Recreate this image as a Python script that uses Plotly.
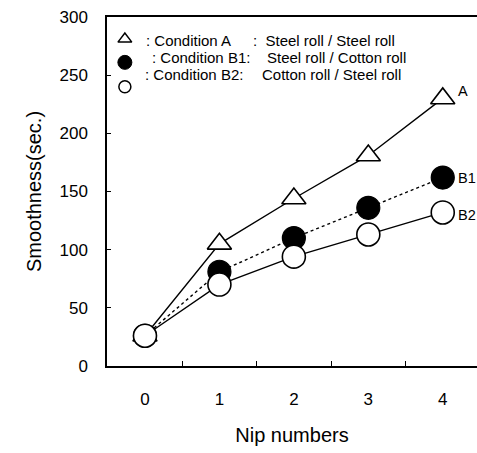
import plotly.graph_objects as go

nips = [0, 1, 2, 3, 4]
cond_a = [26, 105, 144, 181, 230]
cond_b1 = [26, 81, 110, 136, 162]
cond_b2 = [26, 70, 94, 113, 132]
x_tick_vals = [0, 1, 2, 3, 4]
x_tick_text = ["0", "1", "2", "3", "4"]
y_tick_vals = [0, 50, 100, 150, 200, 250, 300]
legend_conditions = [": Condition A", ": Condition B1:", ": Condition B2:"]
legend_rolls = [
    ":  Steel roll / Steel roll",
    "Steel roll / Cotton roll",
    "Cotton roll / Steel roll",
]
end_labels = ["A", "B1", "B2"]

FONT = "Liberation Sans, Arial, sans-serif"
fig = go.Figure()

fig.add_trace(go.Scatter(
    x=nips, y=cond_a, mode="lines+markers",
    line=dict(color="black", width=1.4),
    marker=dict(symbol="triangle-up", size=21, color="white",
                line=dict(color="black", width=1.6)),
    showlegend=False))
fig.add_trace(go.Scatter(
    x=nips, y=cond_b1, mode="lines+markers",
    line=dict(color="black", width=1.4, dash="dot"),
    marker=dict(symbol="circle", size=23, color="black",
                line=dict(color="black", width=1.2)),
    showlegend=False))
fig.add_trace(go.Scatter(
    x=nips, y=cond_b2, mode="lines+markers",
    line=dict(color="black", width=1.4),
    marker=dict(symbol="circle", size=23, color="white",
                line=dict(color="black", width=1.6)),
    showlegend=False))

# legend key symbols
fig.add_trace(go.Scatter(
    x=[-0.27], y=[281], mode="markers",
    marker=dict(symbol="triangle-up", size=12, color="white",
                line=dict(color="black", width=1.5)),
    showlegend=False, hoverinfo="skip"))
fig.add_trace(go.Scatter(
    x=[-0.27], y=[261], mode="markers",
    marker=dict(symbol="circle", size=14, color="black",
                line=dict(color="black", width=1)),
    showlegend=False, hoverinfo="skip"))
fig.add_trace(go.Scatter(
    x=[-0.27], y=[240], mode="markers",
    marker=dict(symbol="circle", size=12, color="white",
                line=dict(color="black", width=1.5)),
    showlegend=False, hoverinfo="skip"))

cond_pos = [(-0.01, 279.5), (0.067, 264.8), (-0.027, 250.2)]
roll_pos = [(1.43, 279.5), (1.611, 264.8), (1.544, 250.2)]
for (lx, ly), txt in zip(cond_pos, legend_conditions):
    fig.add_annotation(x=lx, y=ly, text=txt, showarrow=False,
                       xanchor="left", yanchor="middle",
                       font=dict(family=FONT, size=15, color="black"))
for (lx, ly), txt in zip(roll_pos, legend_rolls):
    fig.add_annotation(x=lx, y=ly, text=txt, showarrow=False,
                       xanchor="left", yanchor="middle",
                       font=dict(family=FONT, size=15, color="black"))

label_pos = [(4.18, 236), (4.18, 162), (4.18, 130)]
for (lx, ly), txt in zip(label_pos, end_labels):
    fig.add_annotation(x=lx, y=ly, text=txt, showarrow=False,
                       xanchor="left", yanchor="middle",
                       font=dict(family=FONT, size=14.5, color="black"))

fig.update_layout(
    width=477, height=453,
    margin=dict(l=107, r=0, t=17, b=87),
    paper_bgcolor="white", plot_bgcolor="white",
    font=dict(family=FONT, size=17, color="black"),
    xaxis=dict(
        range=[-0.51, 4.46], tickvals=x_tick_vals, ticktext=x_tick_text,
        ticks="", showgrid=False, zeroline=False,
        showline=True, linecolor="black", linewidth=1.5, mirror=True,
        ticklabelstandoff=17,
        minor=dict(tickvals=[0.5, 1.5, 2.5, 3.5], ticks="inside",
                   ticklen=5, tickcolor="black", tickwidth=1.3, showgrid=False),
        title=dict(text="Nip numbers", font=dict(size=20), standoff=20),
    ),
    yaxis=dict(
        range=[0, 300], tickvals=y_tick_vals, ticks="inside", ticklen=4,
        tickcolor="black", tickwidth=1.3, showgrid=False, zeroline=False,
        showline=True, linecolor="black", linewidth=1.5,
        ticklabelstandoff=14,
        title=dict(text="Smoothness(sec.)", font=dict(size=20), standoff=12),
    ),
)

# remove the default 8px page margin so the figure fills the window
fig.write_html(
    "out.html",
    config={"displayModeBar": False},
    post_script="document.body.style.margin='0';document.body.style.overflow='hidden';",
)
